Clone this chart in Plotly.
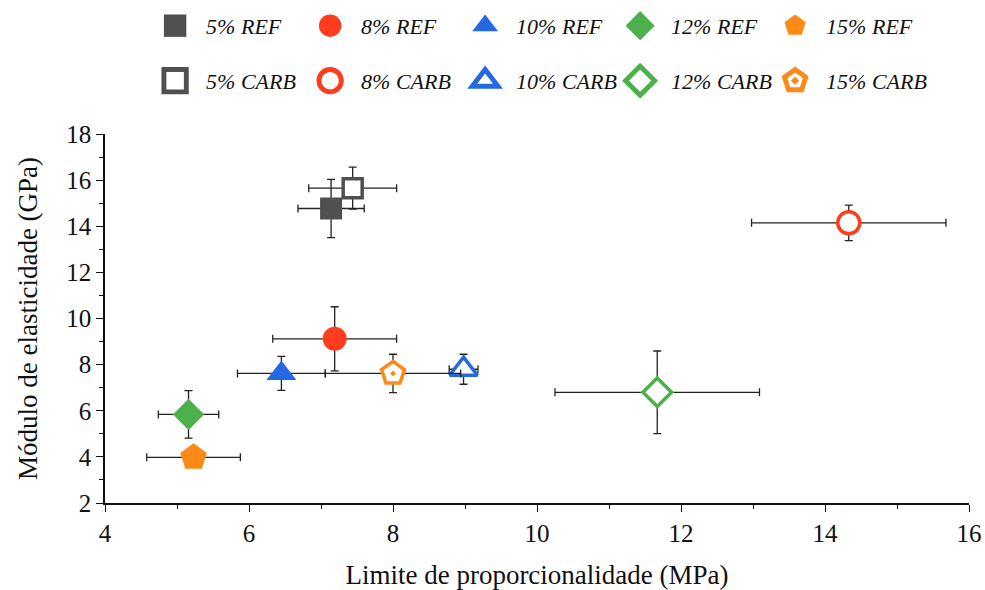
import plotly.graph_objects as go

# Mean values and standard deviations for each mix
names = ["5% REF", "8% REF", "10% REF", "12% REF", "15% REF",
         "5% CARB", "8% CARB", "10% CARB", "12% CARB", "15% CARB"]
lim_prop = [7.14, 7.19, 6.45, 5.16, 5.23,
            7.44, 14.33, 8.98, 11.67, 8.00]
lim_prop_sd = [0.46, 0.86, 0.61, 0.42, 0.65,
               0.61, 1.35, 0.20, 1.42, 0.94]
mod_elast = [14.77, 9.12, 7.62, 5.84, 3.98,
             15.65, 14.15, 7.80, 6.80, 7.62]
mod_elast_sd = [1.26, 1.39, 0.74, 1.03, 0.43,
                0.91, 0.77, 0.65, 1.79, 0.83]

colors = ["#505050", "#FF3C1E", "#2469E3", "#4CB14A", "#FD8A17"] * 2
symbols = ["square", "circle", "triangle-up", "diamond", "pentagon",
           "square", "circle", "triangle-up", "diamond", "pentagon-dot"]
sizes = [22, 24, 26, 24, 28, 19, 22, 24, 22, 24]

font_family = "Liberation Serif, Times New Roman, serif"
label_pad = "\u00a0\u00a0"  # a little air between legend symbol and label

fig = go.Figure()
for i, name in enumerate(names):
    hollow = i >= 5
    fig.add_trace(go.Scatter(
        x=[lim_prop[i]], y=[mod_elast[i]],
        mode="markers", name=label_pad + name,
        legend="legend2" if hollow else "legend",
        error_x=dict(type="data", array=[lim_prop_sd[i]], color="#222222",
                     thickness=1.3, width=4),
        error_y=dict(type="data", array=[mod_elast_sd[i]], color="#222222",
                     thickness=1.3, width=4),
        marker=dict(
            symbol=symbols[i], size=sizes[i],
            color="white" if hollow else colors[i],
            line=dict(color=colors[i], width=3.5 if hollow else 0),
        ),
    ))

legend_style = dict(
    orientation="h", xanchor="left", yanchor="middle",
    entrywidth=110, entrywidthmode="pixels",
    font=dict(family=font_family, size=22, color="#111111", style="italic"),
    bgcolor="rgba(0,0,0,0)", itemsizing="trace",
)

axis_style = dict(
    showline=True, linecolor="#111111", linewidth=1.5,
    ticks="outside", ticklen=7, tickwidth=1.3, tickcolor="#111111",
    minor=dict(ticks="outside", ticklen=4, tickwidth=1.2, dtick=1,
               tickcolor="#111111"),
    showgrid=False, zeroline=False, mirror=False, automargin=False,
    tickfont=dict(size=25),
)

fig.update_layout(
    width=985, height=590,
    margin=dict(l=105, r=16, t=134, b=87, autoexpand=False),
    plot_bgcolor="white", paper_bgcolor="white",
    font=dict(family=font_family, color="#111111"),
    legend=dict(x=0.058, y=1.293, **legend_style),
    legend2=dict(x=0.058, y=1.144, **legend_style),
    xaxis=dict(
        range=[4, 16], dtick=2, tick0=4, **axis_style,
        title=dict(text="Limite de proporcionalidade (MPa)",
                   font=dict(size=27), standoff=21),
    ),
    yaxis=dict(
        range=[2, 18], dtick=2, tick0=2, **axis_style,
        title=dict(text="Módulo de elasticidade (GPa)",
                   font=dict(size=27), standoff=21),
    ),
)

# Legend symbols are capped in size by plotly; enlarge them after drawing
post = """
var gd = document.getElementById('{plot_id}');
function enlargeLegendSymbols() {
  document.querySelectorAll('.legendpoints path.scatterpts').forEach(function(p){
    var t = p.getAttribute('transform') || '';
    if (t.indexOf('scale') < 0) p.setAttribute('transform', t + ' scale(1.4)');
  });
}
enlargeLegendSymbols();
if (gd && gd.on) gd.on('plotly_afterplot', enlargeLegendSymbols);
"""
fig.write_html("out.html", post_script=post)
